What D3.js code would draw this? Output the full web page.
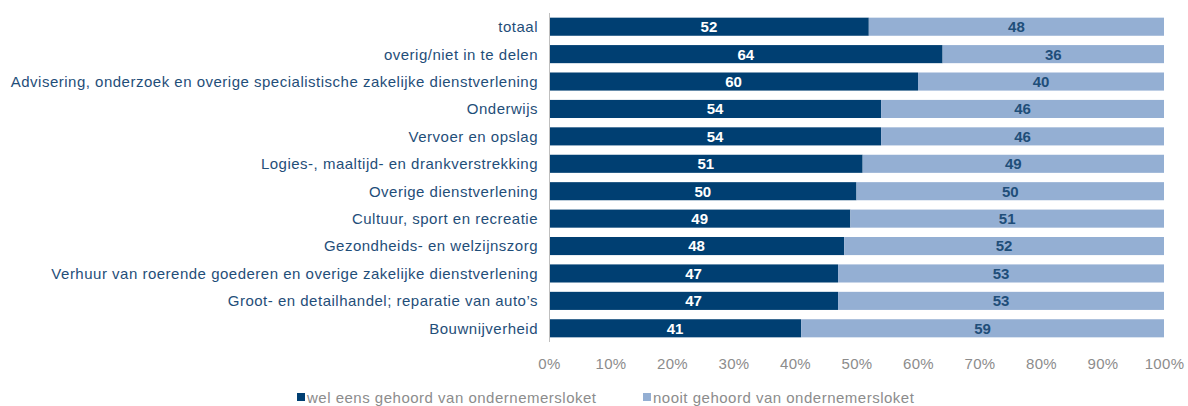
<!DOCTYPE html>
<html>
<meta charset="utf-8">
<style>
body { margin: 0; background: #fff; }
svg { font-family: "Liberation Sans", Arial, sans-serif; }
.axis--x path, .axis--x line { display: none; }
.axis--x text { fill: #8c8c8c; font-size: 15px; letter-spacing: 0.3px; }
.cat { fill: #1f4e79; font-size: 15px; letter-spacing: 0.5px; }
.leg { fill: #8c8c8c; font-size: 15px; letter-spacing: 0.5px; }
</style>
<svg></svg>
<script src="https://d3js.org/d3.v7.min.js"></script>
<script>

var categories = [
  "totaal",
  "overig/niet in te delen",
  "Advisering, onderzoek en overige specialistische zakelijke dienstverlening",
  "Onderwijs",
  "Vervoer en opslag",
  "Logies-, maaltijd- en drankverstrekking",
  "Overige dienstverlening",
  "Cultuur, sport en recreatie",
  "Gezondheids- en welzijnszorg",
  "Verhuur van roerende goederen en overige zakelijke dienstverlening",
  "Groot- en detailhandel; reparatie van auto\u2019s",
  "Bouwnijverheid"
];
var welEens = [52, 64, 60, 54, 54, 51, 50, 49, 48, 47, 47, 41];
var nooit   = [48, 36, 40, 46, 46, 49, 50, 51, 52, 53, 53, 59];
var seriesNames = ["wel eens gehoord van ondernemersloket", "nooit gehoord van ondernemersloket"];
var colors = ["#003f72", "#94afd3"];
var tickValues = [0, 10, 20, 30, 40, 50, 60, 70, 80, 90, 100];

var svg = d3.select("svg").attr("width", 1188).attr("height", 406);

var margin = {top: 13, right: 24, bottom: 64, left: 549},
    width = 1188 - margin.left - margin.right,
    height = 406 - margin.top - margin.bottom;

var x = d3.scaleLinear().domain([0, 100]).range([0, width]);
var y = d3.scaleBand().domain(categories).range([0, height]).paddingInner(0.34).paddingOuter(0.17);

var g = svg.append("g").attr("transform", "translate(" + margin.left + "," + margin.top + ")");

var rows = categories.map(function(c, i) { return {name: c, a: welEens[i], b: nooit[i]}; });

// dark part
g.selectAll(".barA").data(rows).enter().append("rect")
  .attr("x", 0)
  .attr("y", function(d) { return y(d.name); })
  .attr("width", function(d) { return x(d.a); })
  .attr("height", y.bandwidth())
  .attr("fill", colors[0]);

// light part
g.selectAll(".barB").data(rows).enter().append("rect")
  .attr("x", function(d) { return x(d.a); })
  .attr("y", function(d) { return y(d.name); })
  .attr("width", function(d) { return x(d.b); })
  .attr("height", y.bandwidth())
  .attr("fill", colors[1]);

// value labels
g.selectAll(".lblA").data(rows).enter().append("text")
  .attr("x", function(d) { return x(d.a / 2); })
  .attr("y", function(d) { return y(d.name) + y.bandwidth() / 2; })
  .attr("dy", "0.36em")
  .attr("text-anchor", "middle")
  .attr("fill", "#fff")
  .style("font-weight", "bold").style("font-size", "15px")
  .text(function(d) { return d.a; });

g.selectAll(".lblB").data(rows).enter().append("text")
  .attr("x", function(d) { return x(d.a + d.b / 2); })
  .attr("y", function(d) { return y(d.name) + y.bandwidth() / 2; })
  .attr("dy", "0.36em")
  .attr("text-anchor", "middle")
  .attr("fill", "#1f4e79")
  .style("font-weight", "bold").style("font-size", "15px")
  .text(function(d) { return d.b; });

// category axis line
g.append("line")
  .attr("x1", 0.5).attr("x2", 0.5)
  .attr("y1", 0).attr("y2", height)
  .attr("stroke", "#bfbfbf");

g.selectAll(".cat").data(categories).enter().append("text")
  .attr("class", "cat")
  .attr("x", -11)
  .attr("y", function(d) { return y(d) + y.bandwidth() / 2; })
  .attr("dy", "0.36em")
  .attr("text-anchor", "end")
  .text(function(d) { return d; });

g.append("g")
  .attr("class", "axis axis--x")
  .attr("transform", "translate(0," + (height + 13) + ")")
  .call(d3.axisBottom(x).tickValues(tickValues).tickFormat(function(d) { return d + "%"; }).tickSize(0));

// legend
var legend = svg.append("g").attr("transform", "translate(297,398)");
var legX = [0, 346];
seriesNames.forEach(function(s, i) {
  legend.append("rect").attr("x", legX[i]).attr("y", -5).attr("width", 8).attr("height", 8).attr("fill", colors[i]);
  legend.append("text").attr("class", "leg").attr("x", legX[i] + 10).attr("y", 0).attr("dy", "0.36em").text(s);
});

</script>
</html>
